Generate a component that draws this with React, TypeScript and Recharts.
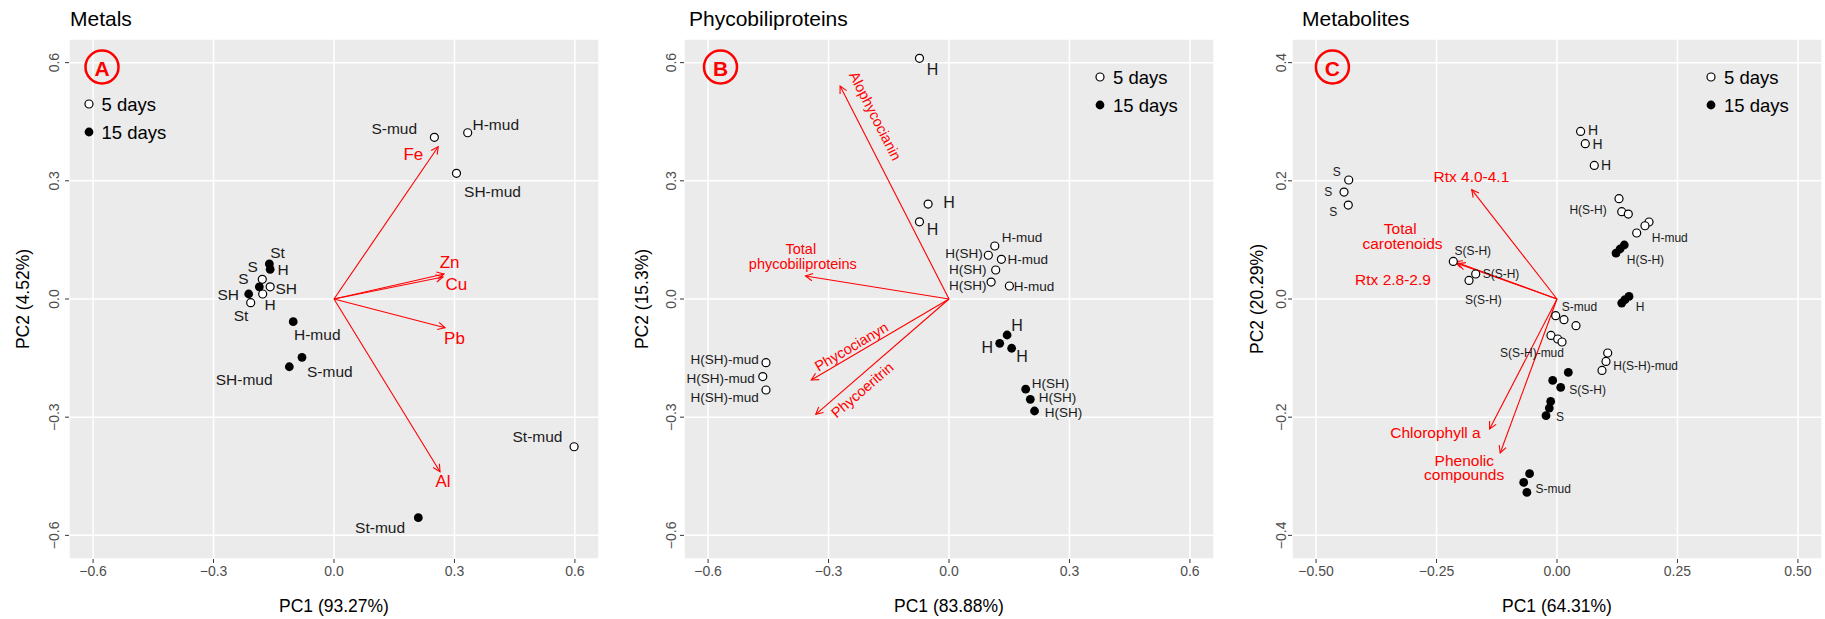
import React from 'react';
import { ScatterChart, Scatter, XAxis, YAxis, CartesianGrid, ReferenceLine } from 'recharts';

const FONT = '"Liberation Sans", Arial, Helvetica, sans-serif';

// ---------------- Panel A: Metals ----------------
const metalsTicksX = [-0.6, -0.3, 0, 0.3, 0.6];
const metalsTicksY = [-0.6, -0.3, 0, 0.3, 0.6];
const metals5Days = [
  { sample: 'S-mud', x: 0.25, y: 0.4105 },
  { sample: 'H-mud', x: 0.333, y: 0.422 },
  { sample: 'SH-mud', x: 0.305, y: 0.319 },
  { sample: 'S', x: -0.1786, y: 0.05 },
  { sample: 'SH', x: -0.159, y: 0.031 },
  { sample: 'H', x: -0.1776, y: 0.0127 },
  { sample: 'St', x: -0.2075, y: -0.0094 },
  { sample: 'St-mud', x: 0.598, y: -0.375 },
];
const metals15Days = [
  { sample: 'St', x: -0.161, y: 0.0889 },
  { sample: 'H', x: -0.159, y: 0.0754 },
  { sample: 'S', x: -0.186, y: 0.031 },
  { sample: 'SH', x: -0.2125, y: 0.0127 },
  { sample: 'H-mud', x: -0.1016, y: -0.0576 },
  { sample: 'S-mud', x: -0.0797, y: -0.148 },
  { sample: 'SH-mud', x: -0.1113, y: -0.172 },
  { sample: 'St-mud', x: 0.21, y: -0.555 },
];
const metalsLabels = [
  { text: 'S-mud', x: 0.207, y: 0.434, anchor: 'end' },
  { text: 'H-mud', x: 0.345, y: 0.444, anchor: 'start' },
  { text: 'SH-mud', x: 0.324, y: 0.274, anchor: 'start' },
  { text: 'St', x: -0.159, y: 0.119, anchor: 'start' },
  { text: 'S', x: -0.2027, y: 0.082, anchor: 'middle' },
  { text: 'H', x: -0.127, y: 0.076, anchor: 'middle' },
  { text: 'S', x: -0.2257, y: 0.0515, anchor: 'middle' },
  { text: 'SH', x: -0.1457, y: 0.026, anchor: 'start' },
  { text: 'SH', x: -0.2366, y: 0.011, anchor: 'end' },
  { text: 'H', x: -0.159, y: -0.015, anchor: 'middle' },
  { text: 'St', x: -0.2316, y: -0.041, anchor: 'middle' },
  { text: 'H-mud', x: -0.0996, y: -0.0896, anchor: 'start' },
  { text: 'S-mud', x: -0.0672, y: -0.1846, anchor: 'start' },
  { text: 'SH-mud', x: -0.153, y: -0.2056, anchor: 'end' },
  { text: 'St-mud', x: 0.569, y: -0.3496, anchor: 'end' },
  { text: 'St-mud', x: 0.177, y: -0.581, anchor: 'end' },
];
const metalsLoadings = [
  { name: 'Fe', x: 0.2595, y: 0.3866 },
  { name: 'Zn', x: 0.274, y: 0.0635 },
  { name: 'Cu', x: 0.2715, y: 0.0558 },
  { name: 'Pb', x: 0.2765, y: -0.0729 },
  { name: 'Al', x: 0.264, y: -0.4384 },
];
const metalsLoadingLabels = [
  { text: 'Fe', x: 0.1975, y: 0.3656, anchor: 'middle' },
  { text: 'Zn', x: 0.288, y: 0.092, anchor: 'middle' },
  { text: 'Cu', x: 0.305, y: 0.038, anchor: 'middle' },
  { text: 'Pb', x: 0.3, y: -0.0998, anchor: 'middle' },
  { text: 'Al', x: 0.2715, y: -0.462, anchor: 'middle' },
];

// ---------------- Panel B: Phycobiliproteins ----------------
const phycoTicksX = [-0.6, -0.3, 0, 0.3, 0.6];
const phycoTicksY = [-0.6, -0.3, 0, 0.3, 0.6];
const phyco5Days = [
  { sample: 'H', x: -0.0735, y: 0.611 },
  { sample: 'H', x: -0.052, y: 0.241 },
  { sample: 'H', x: -0.0735, y: 0.196 },
  { sample: 'H-mud', x: 0.114, y: 0.1346 },
  { sample: 'H(SH)', x: 0.098, y: 0.111 },
  { sample: 'H-mud', x: 0.1305, y: 0.1008 },
  { sample: 'H(SH)', x: 0.1163, y: 0.0736 },
  { sample: 'H(SH)', x: 0.1049, y: 0.043 },
  { sample: 'H-mud', x: 0.1504, y: 0.033 },
  { sample: 'H(SH)-mud', x: -0.4558, y: -0.1617 },
  { sample: 'H(SH)-mud', x: -0.4638, y: -0.197 },
  { sample: 'H(SH)-mud', x: -0.4558, y: -0.231 },
];
const phyco15Days = [
  { sample: 'H', x: 0.1447, y: -0.0914 },
  { sample: 'H', x: 0.1263, y: -0.1125 },
  { sample: 'H', x: 0.156, y: -0.125 },
  { sample: 'H(SH)', x: 0.191, y: -0.229 },
  { sample: 'H(SH)', x: 0.2025, y: -0.2546 },
  { sample: 'H(SH)', x: 0.213, y: -0.2843 },
];
const phycoLabelsH = [
  { text: 'H', x: -0.041, y: 0.583, anchor: 'middle' },
  { text: 'H', x: -0.0144, y: 0.2445, anchor: 'start' },
  { text: 'H', x: -0.041, y: 0.177, anchor: 'middle' },
  { text: 'H', x: 0.1696, y: -0.0685, anchor: 'middle' },
  { text: 'H', x: 0.0951, y: -0.1236, anchor: 'middle' },
  { text: 'H', x: 0.1816, y: -0.1465, anchor: 'middle' },
];
const phycoLabels = [
  { text: 'H-mud', x: 0.1315, y: 0.1566, anchor: 'start' },
  { text: 'H(SH)', x: 0.084, y: 0.116, anchor: 'end' },
  { text: 'H-mud', x: 0.1457, y: 0.1008, anchor: 'start' },
  { text: 'H(SH)', x: 0.0934, y: 0.0754, anchor: 'end' },
  { text: 'H(SH)', x: 0.0934, y: 0.0338, anchor: 'end' },
  { text: 'H-mud', x: 0.1614, y: 0.033, anchor: 'start' },
  { text: 'H(SH)-mud', x: -0.4737, y: -0.153, anchor: 'end' },
  { text: 'H(SH)-mud', x: -0.4837, y: -0.2006, anchor: 'end' },
  { text: 'H(SH)-mud', x: -0.4737, y: -0.2496, anchor: 'end' },
  { text: 'H(SH)', x: 0.2062, y: -0.214, anchor: 'start' },
  { text: 'H(SH)', x: 0.2237, y: -0.2496, anchor: 'start' },
  { text: 'H(SH)', x: 0.2386, y: -0.2876, anchor: 'start' },
];
const phycoLoadings = [
  { name: 'Alophycocianin', x: -0.2712, y: 0.5407 },
  { name: 'Total phycobiliproteins', x: -0.3574, y: 0.0584 },
  { name: 'Phycocianyn', x: -0.343, y: -0.2056 },
  { name: 'Phycoeritrin', x: -0.3318, y: -0.2927 },
];
const phycoLoadingLabels = [
  { text: 'Alophycocianin', x: -0.1836, y: 0.4646, anchor: 'middle', angle: 63 },
  { text: 'Total', x: -0.369, y: 0.1265, anchor: 'middle', angle: 0 },
  { text: 'phycobiliproteins', x: -0.364, y: 0.0895, anchor: 'middle', angle: 0 },
  { text: 'Phycocianyn', x: -0.243, y: -0.121, anchor: 'middle', angle: -30.5 },
  { text: 'Phycoeritrin', x: -0.216, y: -0.231, anchor: 'middle', angle: -40.5 },
];

// ---------------- Panel C: Metabolites ----------------
const metabTicksX = [-0.5, -0.25, 0, 0.25, 0.5];
const metabTicksY = [-0.4, -0.2, 0, 0.2, 0.4];
const metab5Days = [
  { sample: 'S', x: -0.4323, y: 0.2014 },
  { sample: 'S', x: -0.442, y: 0.181 },
  { sample: 'S', x: -0.4332, y: 0.159 },
  { sample: 'S(S-H)', x: -0.2152, y: 0.0636 },
  { sample: 'S(S-H)', x: -0.1687, y: 0.0423 },
  { sample: 'S(S-H)', x: -0.1826, y: 0.0315 },
  { sample: 'H', x: 0.049, y: 0.2836 },
  { sample: 'H', x: 0.0587, y: 0.2628 },
  { sample: 'H', x: 0.0774, y: 0.2261 },
  { sample: 'H(S-H)', x: 0.1287, y: 0.1697 },
  { sample: 'H(S-H)', x: 0.1343, y: 0.1477 },
  { sample: 'H(S-H)', x: 0.148, y: 0.1438 },
  { sample: 'H-mud', x: 0.191, y: 0.1303 },
  { sample: 'H-mud', x: 0.1826, y: 0.124 },
  { sample: 'H-mud', x: 0.1654, y: 0.1117 },
  { sample: 'S-mud', x: -0.0027, y: -0.0283 },
  { sample: 'S-mud', x: 0.0145, y: -0.035 },
  { sample: 'S-mud', x: 0.0394, y: -0.0452 },
  { sample: 'S(S-H)-mud', x: -0.0125, y: -0.0616 },
  { sample: 'S(S-H)-mud', x: 0.0015, y: -0.0677 },
  { sample: 'S(S-H)-mud', x: 0.0104, y: -0.0728 },
  { sample: 'H(S-H)-mud', x: 0.1052, y: -0.0914 },
  { sample: 'H(S-H)-mud', x: 0.1017, y: -0.1056 },
  { sample: 'H(S-H)-mud', x: 0.0934, y: -0.1208 },
];
const metab15Days = [
  { sample: 'H(S-H)', x: 0.1225, y: 0.0778 },
  { sample: 'H(S-H)', x: 0.1308, y: 0.0846 },
  { sample: 'H(S-H)', x: 0.1397, y: 0.0914 },
  { sample: 'H', x: 0.1343, y: -0.0068 },
  { sample: 'H', x: 0.1411, y: -0.0012 },
  { sample: 'H', x: 0.1494, y: 0.0044 },
  { sample: 'S(S-H)', x: 0.0235, y: -0.1242 },
  { sample: 'S(S-H)', x: -0.0089, y: -0.1378 },
  { sample: 'S(S-H)', x: 0.0077, y: -0.1496 },
  { sample: 'S', x: -0.0131, y: -0.1733 },
  { sample: 'S', x: -0.016, y: -0.1845 },
  { sample: 'S', x: -0.0228, y: -0.1975 },
  { sample: 'S-mud', x: -0.0569, y: -0.2956 },
  { sample: 'S-mud', x: -0.0691, y: -0.3104 },
  { sample: 'S-mud', x: -0.0625, y: -0.3273 },
];
const metabLabelsH = [
  { text: 'H', x: 0.0643, y: 0.2853, anchor: 'start' },
  { text: 'H', x: 0.0735, y: 0.2628, anchor: 'start' },
  { text: 'H', x: 0.0913, y: 0.2261, anchor: 'start' },
];
const metabLabels = [
  { text: 'S', x: -0.4572, y: 0.2149, anchor: 'middle' },
  { text: 'S', x: -0.4747, y: 0.1804, anchor: 'middle' },
  { text: 'S', x: -0.4643, y: 0.1466, anchor: 'middle' },
  { text: 'S(S-H)', x: -0.1748, y: 0.0817, anchor: 'middle' },
  { text: 'S(S-H)', x: -0.1542, y: 0.0428, anchor: 'start' },
  { text: 'S(S-H)', x: -0.191, y: -0.0012, anchor: 'start' },
  { text: 'H(S-H)', x: 0.1032, y: 0.1499, anchor: 'end' },
  { text: 'H-mud', x: 0.1966, y: 0.1032, anchor: 'start' },
  { text: 'H(S-H)', x: 0.1447, y: 0.0665, anchor: 'start' },
  { text: 'H', x: 0.1723, y: -0.0135, anchor: 'middle' },
  { text: 'S-mud', x: 0.0098, y: -0.0142, anchor: 'start' },
  { text: 'S(S-H)-mud', x: 0.0145, y: -0.0914, anchor: 'end' },
  { text: 'H(S-H)-mud', x: 0.1169, y: -0.1141, anchor: 'start' },
  { text: 'S(S-H)', x: 0.0255, y: -0.1535, anchor: 'start' },
  { text: 'S', x: 0.0062, y: -0.1997, anchor: 'middle' },
  { text: 'S-mud', x: -0.0446, y: -0.321, anchor: 'start' },
];
const metabLoadings = [
  { name: 'Rtx 4.0-4.1', x: -0.177, y: 0.185 },
  { name: 'Total carotenoids', x: -0.2117, y: 0.0631 },
  { name: 'Rtx 2.8-2.9', x: -0.2055, y: 0.0597 },
  { name: 'Chlorophyll a', x: -0.1399, y: -0.22 },
  { name: 'Phenolic compounds', x: -0.1179, y: -0.2606 },
];
const metabLoadingLabels = [
  { text: 'Rtx 4.0-4.1', x: -0.1777, y: 0.2075, anchor: 'middle' },
  { text: 'Total', x: -0.3254, y: 0.1185, anchor: 'middle' },
  { text: 'carotenoids', x: -0.3207, y: 0.0941, anchor: 'middle' },
  { text: 'Rtx 2.8-2.9', x: -0.3404, y: 0.0338, anchor: 'middle' },
  { text: 'Chlorophyll a', x: -0.2522, y: -0.2258, anchor: 'middle' },
  { text: 'Phenolic', x: -0.1924, y: -0.2731, anchor: 'middle' },
  { text: 'compounds', x: -0.1928, y: -0.2973, anchor: 'middle' },
];

// ---------------- rendering helpers ----------------
const RED = '#FF0000';

const fmt = (v: number, d: number) => (v < -1e-9 ? '\u2212' : '') + Math.abs(v).toFixed(d);

const openShape = (p: any) => (
  <circle cx={p.cx} cy={p.cy} r={4} fill="#FFFFFF" stroke="#000000" strokeWidth={1.2} />
);
const filledShape = (p: any) => <circle cx={p.cx} cy={p.cy} r={4.4} fill="#000000" />;

const textShape = (size: number, color: string) => (p: any) => {
  const d = p.payload || {};
  const angle = d.angle || 0;
  return (
    <text
      x={p.cx}
      y={p.cy}
      textAnchor={d.anchor || 'middle'}
      dominantBaseline="central"
      fontSize={size}
      fill={color}
      fontFamily={FONT}
      transform={angle ? `rotate(${angle} ${p.cx} ${p.cy})` : undefined}
    >
      {d.text}
    </text>
  );
};

const arrowShape = (p: any) => {
  const { x1, y1, x2, y2 } = p;
  if ([x1, y1, x2, y2].some((v) => typeof v !== 'number' || isNaN(v))) return <g />;
  const a = Math.atan2(y2 - y1, x2 - x1);
  const L = 8;
  const s = 0.48;
  const ax = x2 - L * Math.cos(a - s);
  const ay = y2 - L * Math.sin(a - s);
  const bx = x2 - L * Math.cos(a + s);
  const by = y2 - L * Math.sin(a + s);
  return (
    <g>
      <line x1={x1} y1={y1} x2={x2} y2={y2} stroke={RED} strokeWidth={1.1} />
      <polyline points={`${ax},${ay} ${x2},${y2} ${bx},${by}`} fill="none" stroke={RED} strokeWidth={1.1} />
    </g>
  );
};

const XTick = (digits: number) => (p: any) => (
  <text x={p.x} y={p.y} dy="0.71em" textAnchor="middle" fill="#4D4D4D" fontSize={14} fontFamily={FONT}>
    {fmt(p.payload.value, digits)}
  </text>
);
const YTick = (digits: number) => (p: any) => (
  <text
    x={p.x}
    y={p.y}
    textAnchor="middle"
    transform={`rotate(-90 ${p.x} ${p.y})`}
    fill="#4D4D4D"
    fontSize={14}
    fontFamily={FONT}
  >
    {fmt(p.payload.value, digits)}
  </text>
);

const AxisTitle = (props: any) => (
  <text
    x={props.tx}
    y={props.ty}
    textAnchor="middle"
    dominantBaseline="central"
    fontSize={17.5}
    fill="#000000"
    fontFamily={FONT}
    transform={props.rot ? `rotate(-90 ${props.tx} ${props.ty})` : undefined}
  >
    {props.text}
  </text>
);

type PanelProps = {
  left: number;
  width: number;
  yAxisWidth: number;
  marginRight: number;
  yTickMargin: number;
  xDomain: number[];
  yDomain: number[];
  xTicks: number[];
  yTicks: number[];
  xDigits: number;
  yDigits: number;
  open: any[];
  filled: any[];
  labels: any[];
  labelSize: number;
  bigLabels: any[];
  bigLabelSize: number;
  loadings: any[];
  loadingLabels: any[];
  loadingLabelSize: number;
  xTitle: string;
  yTitle: string;
  yTitleX: number;
};

function Panel(p: PanelProps) {
  const plotCenterX = p.yAxisWidth + (p.width - p.yAxisWidth - p.marginRight) / 2;
  return (
    <div style={{ position: 'absolute', left: p.left, top: 0 }}>
      <ScatterChart width={p.width} height={619} margin={{ top: 39, right: p.marginRight, bottom: 0, left: 0 }}>
        <CartesianGrid fill="#EBEBEB" fillOpacity={1} stroke="#FFFFFF" strokeWidth={1.5} />
        <XAxis
          type="number"
          dataKey="x"
          domain={p.xDomain}
          ticks={p.xTicks}
          interval={0}
          allowDataOverflow
          height={60}
          axisLine={false}
          tickLine={{ stroke: '#333333' }}
          tickSize={4}
          tickMargin={3}
          tick={XTick(p.xDigits)}
          label={<AxisTitle tx={plotCenterX} ty={606} text={p.xTitle} />}
        />
        <YAxis
          type="number"
          dataKey="y"
          domain={p.yDomain}
          ticks={p.yTicks}
          interval={0}
          allowDataOverflow
          width={p.yAxisWidth}
          axisLine={false}
          tickLine={{ stroke: '#333333' }}
          tickSize={4}
          tickMargin={p.yTickMargin}
          tick={YTick(p.yDigits)}
          label={<AxisTitle tx={p.yTitleX} ty={299} rot text={p.yTitle} />}
        />
        {p.loadings.map((l) => (
          <ReferenceLine
            key={l.name}
            segment={[
              { x: 0, y: 0 },
              { x: l.x, y: l.y },
            ]}
            stroke={RED}
            ifOverflow="visible"
            shape={arrowShape}
          />
        ))}
        <Scatter data={p.open} shape={openShape} isAnimationActive={false} />
        <Scatter data={p.filled} shape={filledShape} isAnimationActive={false} />
        <Scatter data={p.labels} shape={textShape(p.labelSize, '#1A1A1A')} isAnimationActive={false} />
        <Scatter data={p.bigLabels} shape={textShape(p.bigLabelSize, '#1A1A1A')} isAnimationActive={false} />
        <Scatter data={p.loadingLabels} shape={textShape(p.loadingLabelSize, RED)} isAnimationActive={false} />
      </ScatterChart>
    </div>
  );
}

const Overlay = () => {
  const titles = [
    { text: 'Metals', x: 70 },
    { text: 'Phycobiliproteins', x: 689 },
    { text: 'Metabolites', x: 1302 },
  ];
  const letters = [
    { text: 'A', x: 102, y: 67 },
    { text: 'B', x: 720.5, y: 67 },
    { text: 'C', x: 1332.4, y: 67 },
  ];
  const legends = [
    { x: 89, y1: 104, y2: 132, tx: 101.5 },
    { x: 1100, y1: 77, y2: 105, tx: 1113 },
    { x: 1711, y1: 77, y2: 105, tx: 1724 },
  ];
  return (
    <svg width={1825} height={619} style={{ position: 'absolute', left: 0, top: 0, pointerEvents: 'none' }}>
      {titles.map((t) => (
        <text key={t.text} x={t.x} y={18} dominantBaseline="central" fontSize={21} fill="#000" fontFamily={FONT}>
          {t.text}
        </text>
      ))}
      {letters.map((l) => (
        <g key={l.text}>
          <circle cx={l.x} cy={l.y} r={16.5} fill="none" stroke={RED} strokeWidth={2.5} />
          <text x={l.x} y={l.y + 1} textAnchor="middle" dominantBaseline="central" fontSize={21} fontWeight="bold" fill={RED} fontFamily={FONT}>
            {l.text}
          </text>
        </g>
      ))}
      {legends.map((g, i) => (
        <g key={i}>
          <circle cx={g.x} cy={g.y1} r={4} fill="#FFFFFF" stroke="#000" strokeWidth={1.2} />
          <circle cx={g.x} cy={g.y2} r={4.4} fill="#000" />
          <text x={g.tx} y={g.y1} dominantBaseline="central" fontSize={18.5} fill="#000" fontFamily={FONT}>
            5 days
          </text>
          <text x={g.tx} y={g.y2} dominantBaseline="central" fontSize={18.5} fill="#000" fontFamily={FONT}>
            15 days
          </text>
        </g>
      ))}
    </svg>
  );
};

export default function App() {
  return (
    <div style={{ position: 'absolute', left: 0, top: 0, width: 1825, height: 619, background: '#FFFFFF', overflow: 'hidden' }}>
      <Panel
        left={0}
        width={610}
        yAxisWidth={69}
        marginRight={11}
        yTickMargin={6}
        xDomain={[-0.66, 0.66]}
        yDomain={[-0.66, 0.66]}
        xTicks={metalsTicksX}
        yTicks={metalsTicksY}
        xDigits={1}
        yDigits={1}
        open={metals5Days}
        filled={metals15Days}
        labels={metalsLabels}
        labelSize={15.5}
        bigLabels={[]}
        bigLabelSize={16}
        loadings={metalsLoadings}
        loadingLabels={metalsLoadingLabels}
        loadingLabelSize={17}
        xTitle="PC1 (93.27%)"
        yTitle="PC2 (4.52%)"
        yTitleX={23}
      />
      <Panel
        left={610}
        width={610}
        yAxisWidth={74}
        marginRight={6}
        yTickMargin={4}
        xDomain={[-0.66, 0.66]}
        yDomain={[-0.66, 0.66]}
        xTicks={phycoTicksX}
        yTicks={phycoTicksY}
        xDigits={1}
        yDigits={1}
        open={phyco5Days}
        filled={phyco15Days}
        labels={phycoLabels}
        labelSize={13.5}
        bigLabels={phycoLabelsH}
        bigLabelSize={16}
        loadings={phycoLoadings}
        loadingLabels={phycoLoadingLabels}
        loadingLabelSize={14.5}
        xTitle="PC1 (83.88%)"
        yTitle="PC2 (15.3%)"
        yTitleX={32}
      />
      <Panel
        left={1220}
        width={605}
        yAxisWidth={72}
        marginRight={3}
        yTickMargin={2}
        xDomain={[-0.55, 0.55]}
        yDomain={[-0.44, 0.44]}
        xTicks={metabTicksX}
        yTicks={metabTicksY}
        xDigits={2}
        yDigits={1}
        open={metab5Days}
        filled={metab15Days}
        labels={metabLabels}
        labelSize={12}
        bigLabels={metabLabelsH}
        bigLabelSize={14}
        loadings={metabLoadings}
        loadingLabels={metabLoadingLabels}
        loadingLabelSize={15.5}
        xTitle="PC1 (64.31%)"
        yTitle="PC2 (20.29%)"
        yTitleX={37}
      />
      <Overlay />
    </div>
  );
}
